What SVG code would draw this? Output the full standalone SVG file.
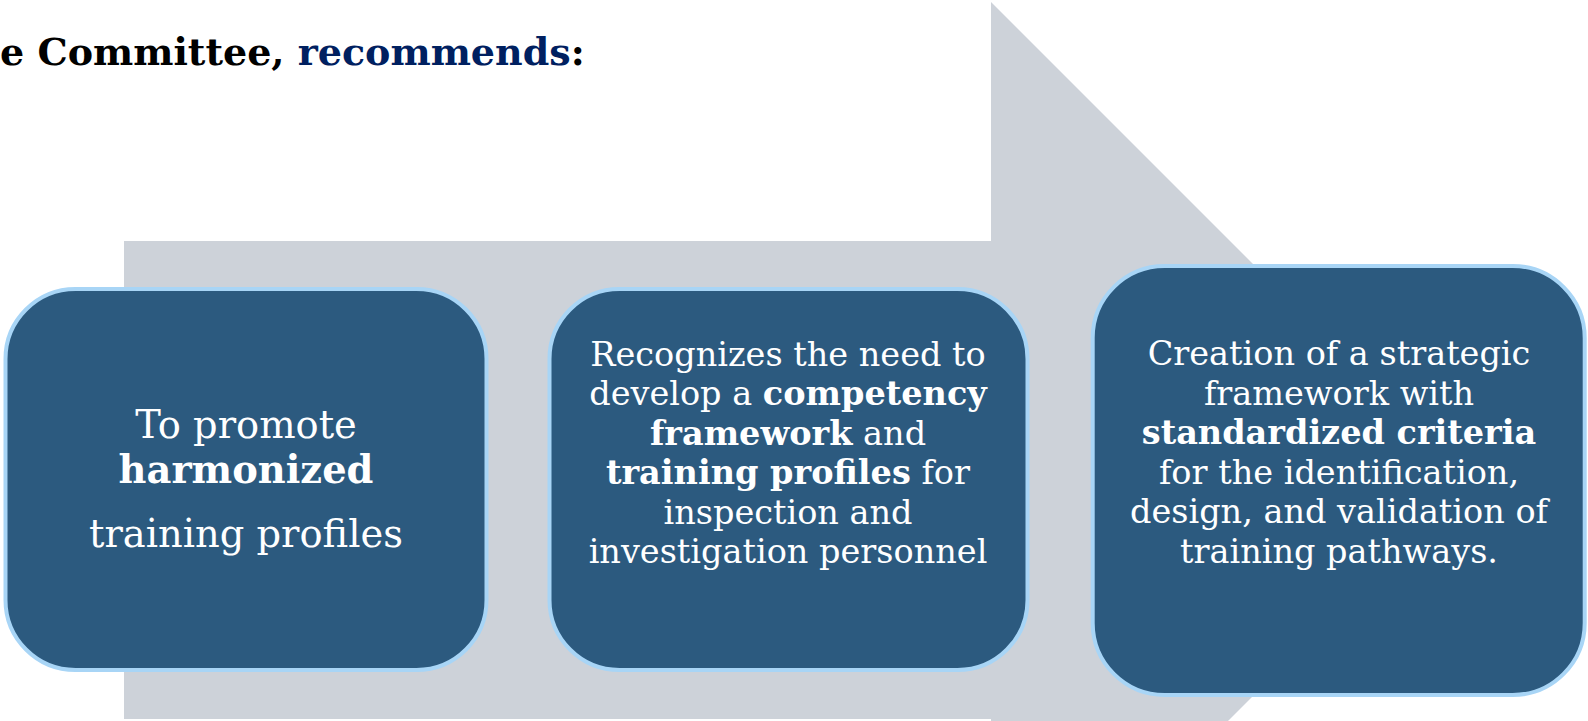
<svg xmlns="http://www.w3.org/2000/svg" width="1588" height="721" viewBox="0 0 1588 721">
<style>
.box{fill:#2C5A7F;stroke:#A8D5F6;stroke-width:4}
.t{font-family:"DejaVu Serif","Liberation Serif",serif;fill:#FFFFFF;text-anchor:middle}
.s1{font-size:38.4px}
.s2{font-size:33.5px}
.b{font-weight:bold}
.title{font-family:"DejaVu Serif","Liberation Serif",serif;font-weight:bold;font-size:38px;fill:#000000}
</style>
<rect x="0" y="0" width="1588" height="721" fill="#FFFFFF"/>
<g id="arrow">
<polygon points="124,241 991,241 991,2 1469,480 991,958 991,719 124,719" fill="#CDD2D9"/>
</g>
<g id="title">
<text class="title" x="0" y="65">e Committee, <tspan fill="#002060">recommends</tspan>:</text>
</g>
<g id="connectors"></g>
<g id="node1">
<rect class="box" x="5.5" y="289" width="481" height="381" rx="70" ry="70"/>
<text class="t s1" x="246" y="438">To promote</text>
<text class="t s1 b" x="246" y="483">harmonized</text>
<text class="t s1" x="246" y="547">training profiles</text>
</g>
<g id="node2">
<rect class="box" x="549.5" y="289" width="478" height="381" rx="70" ry="70"/>
<text class="t s2" x="788" y="365.5">Recognizes the need to</text>
<text class="t s2" x="788" y="405">develop a <tspan class="b">competency</tspan></text>
<text class="t s2" x="788" y="444.5"><tspan class="b">framework</tspan> and</text>
<text class="t s2" x="788" y="484"><tspan class="b">training profiles</tspan> for</text>
<text class="t s2" x="788" y="523.5">inspection and</text>
<text class="t s2" x="788" y="563">investigation personnel</text>
</g>
<g id="node3">
<rect class="box" x="1092.7" y="266" width="492" height="429" rx="72" ry="72"/>
<text class="t s2" x="1339" y="365">Creation of a strategic</text>
<text class="t s2" x="1339" y="404.5">framework with</text>
<text class="t s2 b" x="1339" y="444">standardized criteria</text>
<text class="t s2" x="1339" y="483.5">for the identification,</text>
<text class="t s2" x="1339" y="523">design, and validation of</text>
<text class="t s2" x="1339" y="562.5">training pathways.</text>
</g>
</svg>
